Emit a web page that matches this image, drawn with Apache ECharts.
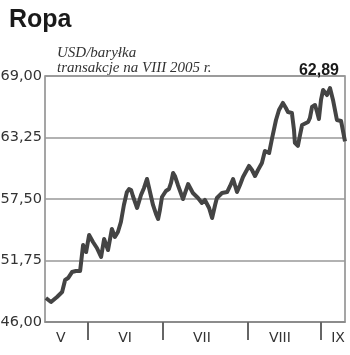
<!DOCTYPE html>
<html>
<head>
<meta charset="utf-8">
<script src="https://cdn.jsdelivr.net/npm/echarts@6/dist/echarts.min.js"></script>
<style>
html,body{margin:0;padding:0;background:#fff;}
#c{width:350px;height:355px;}
</style>
</head>
<body>
<div id="c"></div>
<script>
// session index and price in USD/barrel
const sessions = [0.3,2,4,5.7,6.7,7.7,9,10.3,11.7,12.7,13.7,14.7,16,17.3,18.7,19.7,21,22.3,23.3,24.3,25.3,26.3,27.3,28,28.7,29.3,30.7,32,33,34,35,36,37,37.7,38.3,39,40.3,41.3,42,42.7,43.3,44.3,46,47.7,49.3,51,52.3,53.3,54.7,55.7,56.7,57.3,59,60.7,61.7,62.7,64,65,66,68,69,70,71,72.3,73.3,74.7,75.7,77,78,79.3,80.3,81,82.3,83,83.3,84.3,85,85.7,87.7,88.3,89,90,90.7,91.3,92,92.7,94,95,96,97.3,98.7,100];
const prices = [48.24,47.87,48.34,48.80,49.93,50.11,50.67,50.77,50.77,53.20,52.54,54.13,53.48,52.92,52.08,53.76,52.73,54.70,53.95,54.41,55.35,56.94,58.15,58.43,58.34,57.78,56.66,57.87,58.53,59.37,58.15,56.94,56.10,55.63,56.47,57.69,58.25,58.43,59.00,59.93,59.65,58.81,57.50,58.90,58.06,57.59,57.13,57.41,56.66,55.72,56.94,57.59,58.06,58.15,58.72,59.37,58.15,58.81,59.56,60.59,60.21,59.65,60.21,60.87,61.99,61.80,63.20,64.89,65.82,66.48,66.01,65.63,65.54,63.95,62.74,62.46,63.48,64.42,64.70,65.07,66.10,66.29,65.63,64.98,66.76,67.69,67.22,67.88,66.76,64.89,64.79,62.89];
const monthBounds = [14.3,39.3,67.7,92];
const monthLabelPos = [5.3,26.7,52.3,78.3,97.7];
const monthNames = ['V','VI','VII','VIII','IX'];
const lastValue = '62,89';

const data = sessions.map((s,i)=>[s,prices[i]]);
const chart = echarts.init(document.getElementById('c'), null, {renderer:'canvas'});
chart.setOption({
  animation:false,
  backgroundColor:'#fff',
  title:[
    {text:'Ropa',left:4,top:3,textStyle:{fontFamily:'Liberation Sans',fontWeight:'bold',fontSize:25,color:'#1a1a1a'}},
    {text:'USD/baryłka\ntransakcje na VIII 2005 r.',left:52,top:41,textStyle:{fontFamily:'Liberation Serif',fontStyle:'italic',fontWeight:'normal',fontSize:15,lineHeight:15,color:'#333'}},
    {text:lastValue,right:6,top:58,textStyle:{fontFamily:'Liberation Sans',fontWeight:'bold',fontSize:16,color:'#1a1a1a'}}
  ],
  grid:{left:45,right:5,top:76,bottom:33,show:true,borderColor:'#888',borderWidth:1.5,backgroundColor:'transparent',outerBoundsMode:'none',containLabel:false},
  xAxis:{
    type:'value',min:0,max:100,
    splitLine:{show:false},
    axisLine:{show:true,onZero:false,lineStyle:{color:'#888',width:1.5}},
    axisTick:{show:true,customValues:monthBounds,length:18,lineStyle:{color:'#666',width:2}},
    axisLabel:{show:true,customValues:monthLabelPos,margin:9,fontFamily:'DejaVu Sans',fontSize:14,color:'#333',
      formatter:function(v){const i=monthLabelPos.indexOf(v);return i>=0?monthNames[i]:'';}}
  },
  yAxis:{
    type:'value',min:46,max:69,interval:5.75,
    axisLine:{show:false},axisTick:{show:false},
    splitLine:{show:true,lineStyle:{color:'#999',width:1.5}},
    axisLabel:{margin:3,fontFamily:'DejaVu Sans',fontSize:14.5,color:'#333',
      formatter:function(v){return v.toFixed(2).replace('.',',');}}
  },
  series:[{type:'line',data:data,showSymbol:false,lineStyle:{color:'#444',width:4,join:'round'},z:5}]
});
</script>
</body>
</html>
